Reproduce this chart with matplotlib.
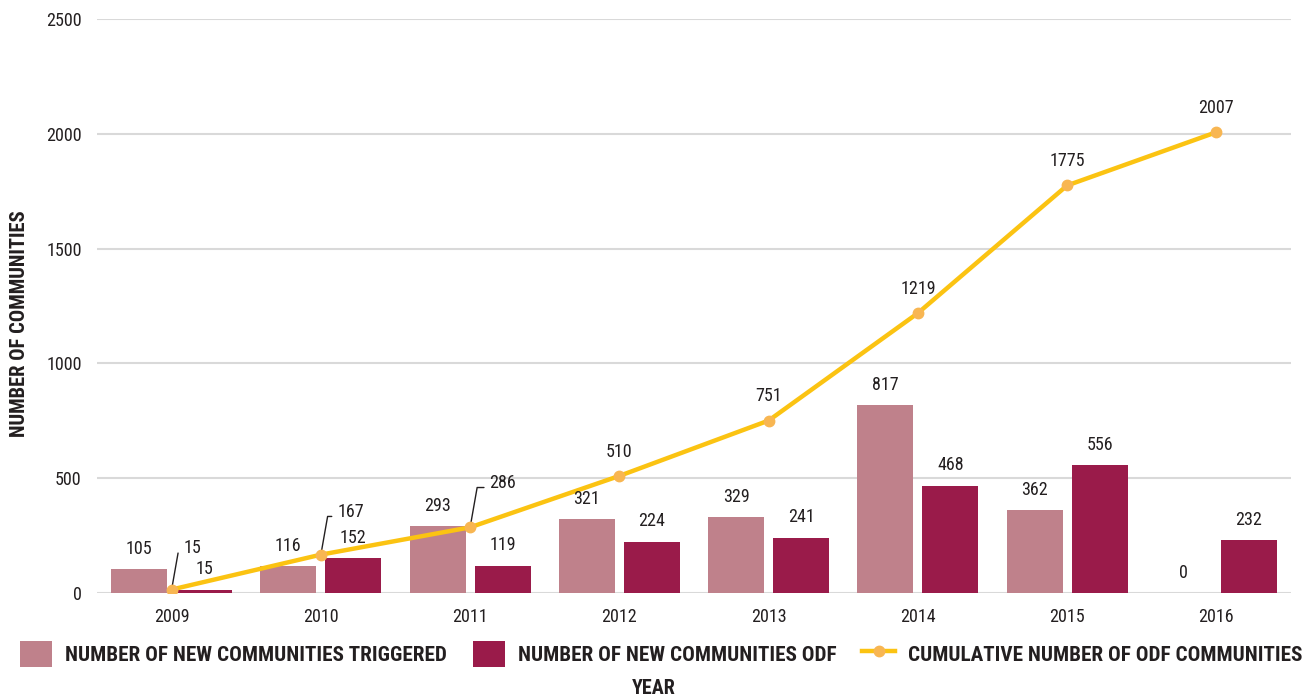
import matplotlib
matplotlib.use("Agg")
import matplotlib.pyplot as plt
import numpy as np
from matplotlib.lines import Line2D
from matplotlib.patches import Patch

years = ["2009", "2010", "2011", "2012", "2013", "2014", "2015", "2016"]
triggered = [105, 116, 293, 321, 329, 817, 362, 0]
new_odf = [15, 152, 119, 224, 241, 468, 556, 232]
cumulative = [15, 167, 286, 510, 751, 1219, 1775, 2007]

PINK = "#BF818B"
WINE = "#9A1B4A"
GOLD = "#FBC312"
DOT = "#F8B652"
INK = "#231F20"

plt.rcParams["font.family"] = ["Roboto Condensed", "DejaVu Sans"]

fig = plt.figure(figsize=(13.08, 6.98), dpi=100)
ax = fig.add_axes([97 / 1308, 1 - 593 / 698, 1194 / 1308, 574 / 698])

x = np.arange(len(years))
w = 0.375
off = 0.218
b1 = ax.bar(x - off, triggered, w, color=PINK, zorder=2)
b2 = ax.bar(x + off, new_odf, w, color=WINE, zorder=2)
ax.plot(x, cumulative, color=GOLD, lw=3.2, zorder=3)
ax.plot(x, cumulative, "o", color=DOT, ms=7.5, zorder=4)

# value labels above the bars
for bars, vals in [(b1, triggered), (b2, new_odf)]:
    for bar, v in zip(bars, vals):
        ax.text(bar.get_x() + bar.get_width() / 2, v + 88, str(v), ha="center",
                va="center", fontsize=13, color=INK)

# cumulative labels, the first three sit to the side with leader lines
leader = {0: (0.08, 196), 1: (0.11, 353), 2: (0.13, 479)}
for i, v in enumerate(cumulative):
    if i in leader:
        dx, ty = leader[i]
        ax.annotate(str(v), xy=(i, v), xytext=(i + dx, ty),
                    ha="left", va="center", fontsize=13, color=INK,
                    arrowprops=dict(arrowstyle="-", color=INK, lw=1.0,
                                    relpos=(0, 0.25),
                                    connectionstyle="angle,angleA=0,angleB=80,rad=0",
                                    shrinkA=2, shrinkB=0))
    else:
        ax.text(i, v + 105, str(v), ha="center", va="center", fontsize=13,
                color=INK)

ax.set_xlim(-0.5, len(years) - 0.5)
ax.set_ylim(0, 2500)
ax.set_yticks([0, 500, 1000, 1500, 2000, 2500])
ax.set_xticks(x)
ax.set_xticklabels(years)
ax.tick_params(axis="both", length=0, labelsize=13, colors=INK)
ax.tick_params(axis="x", pad=11)
ax.tick_params(axis="y", pad=11)
ax.yaxis.grid(True, color="#D9D9D9", lw=1.5, zorder=0)
ax.set_axisbelow(True)
for s in ax.spines.values():
    s.set_visible(False)

ax.set_ylabel("NUMBER OF COMMUNITIES", fontsize=14.8, fontweight="bold", color=INK)
ax.yaxis.set_label_coords(-68 / 1194, 0.47)

handles = [
    Patch(facecolor=PINK, label="NUMBER OF NEW COMMUNITIES TRIGGERED"),
    Patch(facecolor=WINE, label="NUMBER OF NEW COMMUNITIES ODF"),
    Line2D([0], [0], color=GOLD, lw=3.2, marker="o", markerfacecolor=DOT,
           markeredgecolor=DOT, ms=7.5, label="CUMULATIVE NUMBER OF ODF COMMUNITIES"),
]
leg = fig.legend(handles=handles, loc="center", bbox_to_anchor=(661 / 1308, 1 - 654 / 698),
                 ncol=3, frameon=False, handlelength=1.55, handleheight=1.55,
                 columnspacing=1.2, handletextpad=0.62,
                 prop=dict(family=["Roboto Condensed"], weight="bold", size=15.2))
for t in leg.get_texts():
    t.set_color(INK)
fig.text(0.5, 1 - 688 / 698, "YEAR", ha="center", va="center", fontsize=14.5,
         fontweight="bold", color=INK)

fig.savefig("out.png", dpi=100)
